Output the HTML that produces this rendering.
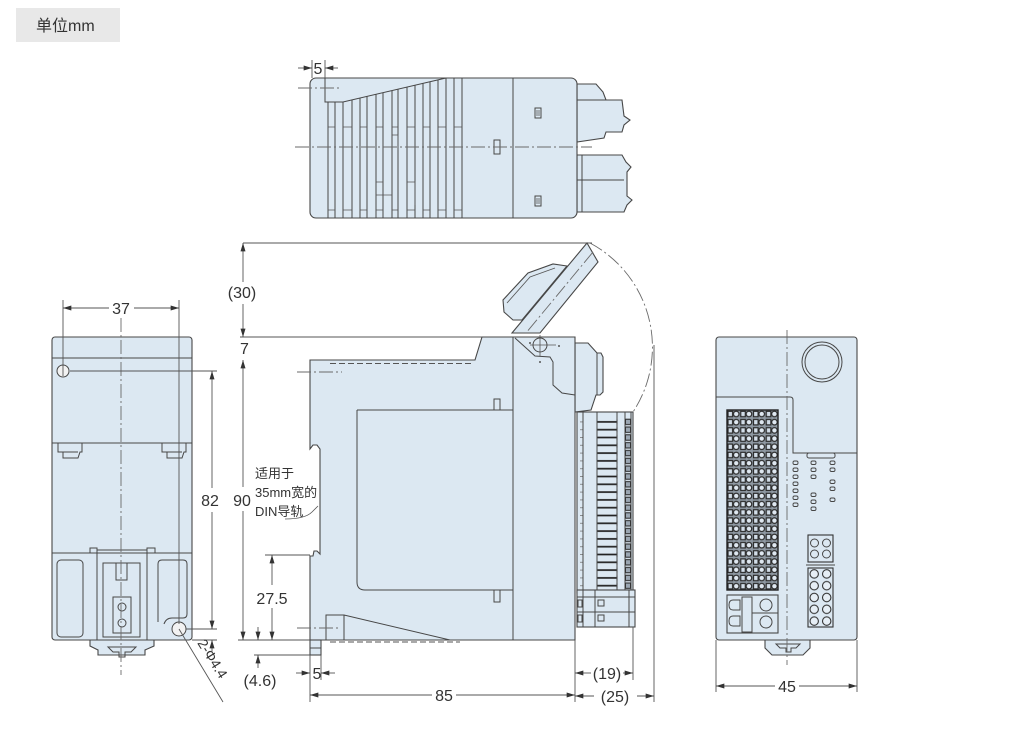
<!DOCTYPE html>
<html><head><meta charset="utf-8"><style>
html,body{margin:0;padding:0;background:#fff;}
svg{display:block;}
.b{fill:#dce8f2;stroke:#474747;stroke-width:1.1;}
.l{fill:none;stroke:#474747;stroke-width:1;}
.t{fill:none;stroke:#555;stroke-width:0.8;}
.d{fill:none;stroke:#555;stroke-width:0.9;}
.c{fill:none;stroke:#6a6a6a;stroke-width:0.9;stroke-dasharray:14,3,2,3;}
text{font-family:"Liberation Sans","Noto Sans CJK SC",sans-serif;fill:#333;}
.n{font-size:16px;text-anchor:middle;}
</style></head><body>
<svg width="1017" height="745" viewBox="0 0 1017 745" xmlns="http://www.w3.org/2000/svg">
<defs>
<marker id="ar" viewBox="0 0 10 6" refX="10" refY="3" markerWidth="9" markerHeight="5" markerUnits="userSpaceOnUse" orient="auto"><path d="M0,0L10,3L0,6z" fill="#333"/></marker>
<pattern id="rg" x="727" y="410" width="12.75" height="8.2" patternUnits="userSpaceOnUse">
<rect x="0" y="0" width="12.75" height="8.2" fill="#8f99a3"/>
<rect x="1" y="1.3" width="4.6" height="5.4" fill="#d2dde8" stroke="#2a2a2a" stroke-width="1.2"/>
<circle cx="9.2" cy="4" r="2.8" fill="#dfe8f1" stroke="#2a2a2a" stroke-width="1.2"/>
</pattern>
<pattern id="tr" x="577" y="418" width="60" height="7.8" patternUnits="userSpaceOnUse">
<line x1="20" y1="3.9" x2="40" y2="3.9" stroke="#222" stroke-width="1.7"/>
<line x1="40" y1="1.5" x2="40" y2="6.3" stroke="#333" stroke-width="1.1"/>
<rect x="48.5" y="1.2" width="5" height="5.4" fill="#9aa6b2" stroke="#222" stroke-width="1"/>
<line x1="3" y1="3.9" x2="6" y2="3.9" stroke="#777" stroke-width="0.8"/>
</pattern>
<pattern id="rc" x="808" y="568" width="12.5" height="11.8" patternUnits="userSpaceOnUse">
<circle cx="6.2" cy="5.9" r="4.2" fill="#e6eef5" stroke="#333" stroke-width="1.1"/>
</pattern>
</defs>

<!-- unit label -->
<rect x="16" y="8" width="104" height="34" fill="#e8e8e8"/>
<text x="36" y="31" style="font-size:16px">单位mm</text>

<!-- ================= TOP VIEW ================= -->
<polygon class="b" points="577,84 596,84 603,92 606,100 622,100 624,116 630,120 624,125 622,132 606,132 604,138 577,142"/>
<line class="l" x1="577" y1="100" x2="606" y2="100"/>
<polygon class="b" points="577,155 622,155 626,162 631,167 627,172 627,196 632,200 627,205 624,212 577,212"/>
<line class="l" x1="577" y1="180" x2="624" y2="180"/>
<line class="l" x1="582" y1="155" x2="582" y2="212"/>
<rect class="b" x="310" y="78" width="267" height="140" rx="6"/>
<path class="l" d="M325,78 V102 H343 L446,78"/>
<g class="l">
<line x1="328" y1="102" x2="328" y2="218"/><line x1="335" y1="102" x2="335" y2="218"/>
<line x1="343" y1="102" x2="343" y2="218"/><line x1="352" y1="100" x2="352" y2="218"/>
<line x1="360" y1="98" x2="360" y2="218"/><line x1="367" y1="96.4" x2="367" y2="218"/>
<line x1="376" y1="94.3" x2="376" y2="218"/><line x1="383" y1="92.7" x2="383" y2="218"/>
<line x1="392" y1="90.6" x2="392" y2="218"/><line x1="398" y1="89.2" x2="398" y2="218"/>
<line x1="407" y1="87.1" x2="407" y2="218"/><line x1="415" y1="85.2" x2="415" y2="218"/>
<line x1="423" y1="83.4" x2="423" y2="218"/><line x1="430" y1="81.7" x2="430" y2="218"/>
<line x1="438" y1="79.9" x2="438" y2="218"/><line x1="446" y1="78" x2="446" y2="218"/>
<line x1="454" y1="78" x2="454" y2="218"/><line x1="462" y1="78" x2="462" y2="218"/>
<line x1="513" y1="78" x2="513" y2="218"/>
</g>
<g class="t">
<path d="M328,127H335M343,127H352M360,127H367M376,127H383M392,127H398M407,127H415M423,127H430M438,127H446M454,127H462"/>
<path d="M328,210H335M343,210H352M360,210H367M376,210H383M392,210H398M407,210H415M423,210H430M438,210H446M454,210H462"/>
<path d="M392,135H398V150M376,182H383M376,195H392M407,182H415V205"/>
</g>
<rect class="l" x="494" y="140" width="6" height="14"/>
<rect class="l" x="535" y="108" width="6" height="10"/>
<rect class="l" x="535" y="196" width="6" height="10"/>
<path class="t" d="M537,110V116M539,110V116M537,198V204M539,198V204"/>
<line class="c" x1="295" y1="147" x2="592" y2="147"/>
<line class="c" x1="298" y1="88" x2="342" y2="88"/>
<!-- top 5 dim -->
<line class="d" x1="312" y1="60" x2="312" y2="78"/>
<line class="d" x1="325" y1="60" x2="325" y2="78"/>
<line class="d" x1="298" y1="68" x2="312" y2="68" marker-end="url(#ar)"/>
<line class="d" x1="338" y1="68" x2="325" y2="68" marker-end="url(#ar)"/>
<text class="n" x="318" y="74">5</text>

<!-- ================= SIDE VIEW ================= -->
<path class="c" d="M590,243 A118,118 0 0 1 633,412"/>
<polygon class="b" points="567,266 553,264 528,273 503,300 504,312 513,320 522,320"/>
<polygon class="b" points="587,243 598,262 540,333 512,333"/>
<path class="t" d="M507,303 L530,277 L555,268"/>
<line class="c" x1="593" y1="252" x2="526" y2="333"/>
<polygon class="b" points="575,343 588,343 597,353 601,353 603,357 603,392 600,395 596,395 591,410 575,412"/>
<line class="l" x1="597" y1="353" x2="597" y2="395"/>
<rect class="b" x="577" y="412" width="56" height="181"/>
<rect x="577" y="418" width="56" height="172" fill="url(#tr)"/>
<g class="l">
<line x1="583" y1="412" x2="583" y2="593"/>
<line x1="597" y1="412" x2="597" y2="593"/>
<line x1="617" y1="412" x2="617" y2="593"/>
<line x1="625" y1="412" x2="625" y2="593"/>
<line x1="631" y1="412" x2="631" y2="593"/>
</g>
<rect class="b" x="577" y="590" width="58" height="37"/>
<g class="l">
<line x1="577" y1="597" x2="635" y2="597"/>
<line x1="577" y1="612" x2="635" y2="612"/>
<line x1="583" y1="590" x2="583" y2="627"/>
<line x1="595" y1="590" x2="595" y2="627"/>
<line x1="629" y1="590" x2="629" y2="627"/>
</g>
<rect class="l" x="598" y="600" width="6" height="6"/>
<rect class="l" x="598" y="615" width="6" height="6"/>
<rect class="l" x="578" y="600" width="4" height="7"/>
<rect class="l" x="578" y="615" width="4" height="7"/>
<path class="b" d="M310,360 H475 L482,337 H575 V640 H310 V556 L313,556 L314,551 H317 L320,554 V449 L317,445 H313 L310,449 Z"/>
<line class="l" x1="513" y1="337" x2="513" y2="640"/>
<path class="l" d="M515,338 L535,356 L550,357 L553,362 L553,385 L562,393 L575,395"/>
<circle class="l" cx="540" cy="345" r="7"/>
<path class="t" d="M530,345H556M540,335V356"/>
<circle cx="530" cy="343" r="1" fill="#555"/>
<circle cx="540" cy="362" r="1" fill="#555"/>
<circle cx="559" cy="346" r="1" fill="#555"/>
<path class="l" d="M357,410 H513 M357,410 V582 Q357,590 365,590 H513"/>
<rect class="l" x="494" y="399" width="6" height="11"/>
<rect class="l" x="494" y="590" width="6" height="12"/>
<path class="l" d="M326,640 V615 H344 L450,640 M344,615 V640"/>
<line x1="330" y1="363.5" x2="472" y2="363.5" stroke="#555" stroke-width="1" stroke-dasharray="6,3"/>
<line x1="330" y1="642" x2="460" y2="642" stroke="#555" stroke-width="1" stroke-dasharray="6,3"/>
<rect class="b" x="310" y="640" width="11" height="15"/>
<line class="l" x1="310" y1="648" x2="321" y2="648"/>
<line class="c" x1="297" y1="372" x2="342" y2="372"/>
<line class="c" x1="297" y1="628" x2="340" y2="628"/>
<path class="t" d="M285,519 Q305,519 312,512 L318,506"/>
<text x="255" y="478" style="font-size:13px">适用于</text>
<text x="255" y="497" style="font-size:13px">35mm宽的</text>
<text x="255" y="516" style="font-size:13px">DIN导轨</text>

<line class="d" x1="243" y1="243" x2="592" y2="243"/>
<line class="d" x1="240" y1="337" x2="482" y2="337"/>
<line class="d" x1="238" y1="640" x2="310" y2="640"/>
<line class="d" x1="265" y1="555" x2="310" y2="555"/>
<line class="d" x1="254" y1="655" x2="310" y2="655"/>
<line class="d" x1="243" y1="282" x2="243" y2="243" marker-end="url(#ar)"/>
<line class="d" x1="243" y1="304" x2="243" y2="337" marker-end="url(#ar)"/>
<text class="n" x="242" y="298">(30)</text>
<text x="240" y="354" style="font-size:16px">7</text>
<line class="d" x1="243" y1="374" x2="243" y2="360" marker-end="url(#ar)"/>
<line class="d" x1="243" y1="374" x2="243" y2="487"/>
<text class="n" x="242" y="506">90</text>
<line class="d" x1="243" y1="511" x2="243" y2="640" marker-end="url(#ar)"/>
<line class="d" x1="272" y1="585" x2="272" y2="555" marker-end="url(#ar)"/>
<line class="d" x1="272" y1="608" x2="272" y2="640" marker-end="url(#ar)"/>
<text class="n" x="272" y="604">27.5</text>
<line class="d" x1="258" y1="627" x2="258" y2="640" marker-end="url(#ar)"/>
<line class="d" x1="258" y1="668" x2="258" y2="655" marker-end="url(#ar)"/>
<text class="n" x="260" y="686">(4.6)</text>
<line class="d" x1="310" y1="655" x2="310" y2="702"/>
<line class="d" x1="321" y1="655" x2="321" y2="680"/>
<line class="d" x1="296" y1="673" x2="310" y2="673" marker-end="url(#ar)"/>
<line class="d" x1="335" y1="673" x2="321" y2="673" marker-end="url(#ar)"/>
<text class="n" x="317" y="679">5</text>
<line class="d" x1="432" y1="695" x2="310" y2="695" marker-end="url(#ar)"/>
<line class="d" x1="456" y1="695" x2="575" y2="695" marker-end="url(#ar)"/>
<text class="n" x="444" y="701">85</text>
<line class="d" x1="575" y1="640" x2="575" y2="702"/>
<line class="d" x1="633" y1="627" x2="633" y2="680"/>
<line class="d" x1="654" y1="345" x2="654" y2="702"/>
<line class="d" x1="591" y1="673" x2="575" y2="673" marker-end="url(#ar)"/>
<line class="d" x1="623" y1="673" x2="633" y2="673" marker-end="url(#ar)"/>
<text class="n" x="607" y="679">(19)</text>
<line class="d" x1="594" y1="696" x2="575" y2="696" marker-end="url(#ar)"/>
<line class="d" x1="637" y1="696" x2="654" y2="696" marker-end="url(#ar)"/>
<text class="n" x="615" y="702">(25)</text>

<!-- ================= LEFT VIEW ================= -->
<rect class="b" x="52" y="337" width="140" height="303" rx="3"/>
<g class="l">
<line x1="52" y1="358" x2="192" y2="358"/>
<line x1="52" y1="443" x2="192" y2="443"/>
<line x1="52" y1="553" x2="192" y2="553"/>
<path d="M58,443 V452 H63 V458 H78 L80,452 H82 V443"/>
<path d="M62,452 H78"/>
<path d="M162,443 V452 H167 V458 H182 L184,452 H186 V443"/>
<path d="M166,452 H182"/>
<rect x="57" y="560" width="26" height="77" rx="4"/>
<path d="M158,622 V564 Q158,560 162,560 H183 Q187,560 187,564 V614 Q187,618 183,618 H172 Q166,618 164,624"/>
<path d="M90,553 V548 H97 V553 M147,553 V548 H155 V553"/>
<path d="M97,553 V640 M147,553 V640 M97,550 H147"/>
<rect x="103" y="563" width="37" height="74"/>
<path d="M116,563 V580 H127 V563"/>
<rect x="113" y="597" width="18" height="36"/>
</g>
<circle class="l" cx="122" cy="607" r="4"/>
<circle class="l" cx="122" cy="623" r="4"/>
<path class="b" d="M90,640 V646 L98,650 V655 H145 V650 L154,646 V640 Z"/>
<path class="l" d="M108,647 H136 L131,652 H125 V657 H119 V652 H113 Z"/>
<circle cx="63" cy="371" r="6" fill="#f2f2f2" stroke="#474747" stroke-width="1"/>
<circle cx="179" cy="629" r="7" fill="#f2f2f2" stroke="#474747" stroke-width="1"/>
<line class="c" x1="121" y1="318" x2="121" y2="675"/>
<line class="d" x1="63" y1="300" x2="63" y2="376"/>
<line class="d" x1="179" y1="300" x2="179" y2="624"/>
<line class="d" x1="109" y1="308" x2="63" y2="308" marker-end="url(#ar)"/>
<line class="d" x1="134" y1="308" x2="179" y2="308" marker-end="url(#ar)"/>
<text class="n" x="121" y="314">37</text>
<line class="d" x1="70" y1="371" x2="217" y2="371"/>
<line class="d" x1="186" y1="629" x2="217" y2="629"/>
<line class="d" x1="192" y1="640" x2="217" y2="640"/>
<line class="d" x1="212" y1="488" x2="212" y2="371" marker-end="url(#ar)"/>
<line class="d" x1="212" y1="512" x2="212" y2="629" marker-end="url(#ar)"/>
<line class="d" x1="212" y1="652" x2="212" y2="640" marker-end="url(#ar)"/>
<text class="n" x="210" y="506">82</text>
<line class="d" x1="179" y1="629" x2="223" y2="702"/>
<text x="197" y="643" style="font-size:14px" transform="rotate(58 197 643)">2-Φ4.4</text>

<!-- ================= RIGHT VIEW ================= -->
<rect class="b" x="716" y="337" width="141" height="303" rx="3"/>
<path class="l" d="M716,397 H790 Q793,397 793,400 V453 H857"/>
<circle class="l" cx="822" cy="362" r="20"/>
<circle class="l" cx="822" cy="362" r="17"/>
<rect class="l" x="807" y="453" width="28" height="5" rx="2"/>
<rect x="727" y="410" width="51" height="180" fill="url(#rg)" stroke="#222" stroke-width="1.4"/>
<g fill="#dce8f2" stroke="#444" stroke-width="0.9">
<rect x="793" y="461" width="5" height="3.5" rx="1.5"/><rect x="793" y="468" width="5" height="3.5" rx="1.5"/>
<rect x="793" y="475" width="5" height="3.5" rx="1.5"/><rect x="793" y="482" width="5" height="3.5" rx="1.5"/>
<rect x="793" y="489" width="5" height="3.5" rx="1.5"/><rect x="793" y="496" width="5" height="3.5" rx="1.5"/>
<rect x="793" y="503" width="5" height="3.5" rx="1.5"/>
<rect x="811" y="461" width="5" height="3.5" rx="1.5"/><rect x="811" y="468" width="5" height="3.5" rx="1.5"/>
<rect x="811" y="475" width="5" height="3.5" rx="1.5"/>
<rect x="811" y="493" width="5" height="3.5" rx="1.5"/><rect x="811" y="500" width="5" height="3.5" rx="1.5"/>
<rect x="811" y="507" width="5" height="3.5" rx="1.5"/>
<rect x="830" y="461" width="5" height="3.5" rx="1.5"/><rect x="830" y="468" width="5" height="3.5" rx="1.5"/>
<rect x="830" y="480" width="5" height="3.5" rx="1.5"/><rect x="830" y="487" width="5" height="3.5" rx="1.5"/>
<rect x="830" y="498" width="5" height="3.5" rx="1.5"/>
</g>
<rect x="808" y="535" width="25" height="27" fill="#dce8f2" stroke="#333" stroke-width="1.1"/>
<circle class="l" cx="814.5" cy="543" r="4"/><circle class="l" cx="826.5" cy="543" r="4"/>
<circle class="l" cx="814.5" cy="554" r="4"/><circle class="l" cx="826.5" cy="554" r="4"/>
<line class="l" x1="806" y1="565" x2="835" y2="565"/>
<rect x="808" y="568" width="25" height="59" fill="url(#rc)" stroke="#333" stroke-width="1.1"/>
<rect class="b" x="727" y="595" width="51" height="38"/>
<rect class="l" x="742" y="597" width="10" height="35"/>
<path class="l" d="M733,600 H740 V610 H733 Q729,610 729,605 Q729,600 733,600 Z M733,616 H740 V626 H733 Q729,626 729,621 Q729,616 733,616 Z"/>
<circle class="l" cx="766" cy="605" r="6"/>
<circle class="l" cx="766" cy="622" r="6"/>
<line class="l" x1="752" y1="613" x2="778" y2="613"/>
<path class="b" d="M765,640 V648 L772,655 H803 L810,648 V640 Z"/>
<path class="l" d="M776,644 H800 L796,648 H791 V652 H786 V648 H780 Z"/>
<line class="c" x1="787" y1="330" x2="787" y2="665"/>
<line class="d" x1="716" y1="640" x2="716" y2="692"/>
<line class="d" x1="857" y1="640" x2="857" y2="692"/>
<line class="d" x1="775" y1="686" x2="716" y2="686" marker-end="url(#ar)"/>
<line class="d" x1="799" y1="686" x2="857" y2="686" marker-end="url(#ar)"/>
<text class="n" x="787" y="692">45</text>
</svg>
</body></html>
